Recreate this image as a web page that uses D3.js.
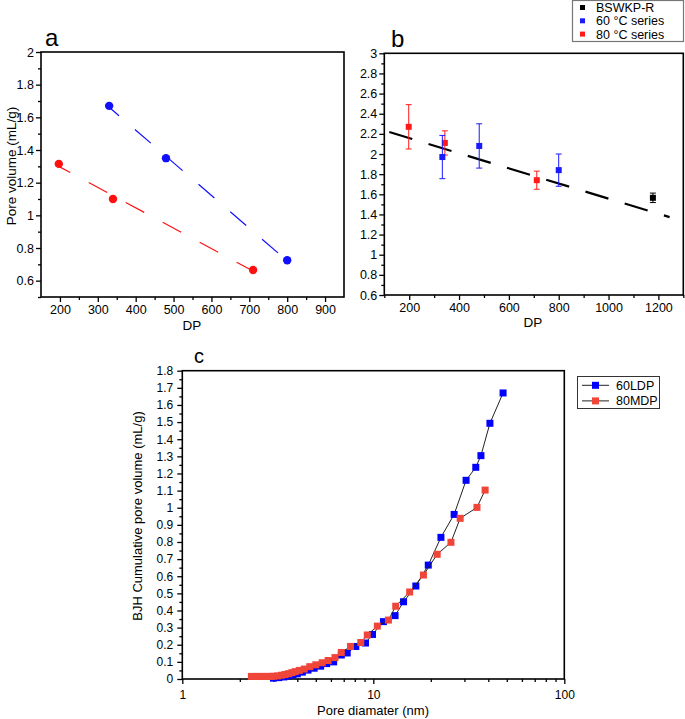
<!DOCTYPE html>
<html><head><meta charset="utf-8">
<script src="https://cdn.jsdelivr.net/npm/d3@7/dist/d3.min.js"></script>
<style>
body{margin:0;background:#fff;}
text{font-family:"Liberation Sans",Arial,sans-serif;}
</style></head>
<body><svg id="chart" width="685" height="719"></svg>
<script>
// ---------- Panel a data ----------
const aDP60 = [330, 480, 800];
const aPV60 = [1.67, 1.35, 0.725];
const aDP80 = [197, 340, 710];
const aPV80 = [1.315, 1.10, 0.665];
const aXTicks = [200, 300, 400, 500, 600, 700, 800, 900];
const aYTicks = [0.6, 0.8, 1.0, 1.2, 1.4, 1.6, 1.8, 2.0];

// ---------- Panel b data ----------
const bDP60 = [333, 481, 800];
const bPV60 = [1.97, 2.08, 1.84];
const bErr60 = [0.215, 0.22, 0.16];
const bDP80 = [198, 343, 712];
const bPV80 = [2.27, 2.11, 1.74];
const bErr80 = [0.22, 0.12, 0.09];
const bDPRef = [1178];
const bPVRef = [1.565];
const bErrRef = [0.047];
const bTrendDP = [120, 1245];
const bTrendPV = [2.218, 1.373];
const bXTicks = [200, 400, 600, 800, 1000, 1200];
const bYTicks = [0.6, 0.8, 1.0, 1.2, 1.4, 1.6, 1.8, 2.0, 2.2, 2.4, 2.6, 2.8, 3.0];
const bLegend = ["BSWKP-R", "60 °C series", "80 °C series"];

// ---------- Panel c data ----------
const cD60 = [3.0, 3.2, 3.4, 3.6, 3.8, 4.0, 4.25, 4.55, 4.9, 5.3, 5.7, 6.2, 6.8, 7.3, 8.1, 9.1, 9.9, 11.3, 13.0, 14.4, 16.7, 19.4, 22.6, 26.5, 30.6, 34.4, 36.6, 40.8, 47.8];
const cV60 = [0.005, 0.008, 0.012, 0.018, 0.024, 0.03, 0.04, 0.052, 0.063, 0.075, 0.09, 0.10, 0.14, 0.152, 0.19, 0.21, 0.26, 0.335, 0.37, 0.451, 0.543, 0.665, 0.827, 0.961, 1.16, 1.236, 1.304, 1.493, 1.67];
const cD80 = [2.3, 2.4, 2.5, 2.6, 2.7, 2.8, 2.9, 3.0, 3.15, 3.3, 3.45, 3.6, 3.75, 3.9, 4.1, 4.35, 4.65, 5.0, 5.4, 5.8, 6.3, 6.8, 7.6, 8.6, 9.3, 10.5, 12.0, 13.1, 15.5, 18.3, 21.6, 25.5, 28.5, 34.9, 38.5];
const cV80 = [0.015, 0.015, 0.015, 0.015, 0.015, 0.015, 0.015, 0.016, 0.018, 0.022, 0.026, 0.031, 0.037, 0.043, 0.05, 0.058, 0.072, 0.083, 0.095, 0.108, 0.125, 0.155, 0.19, 0.213, 0.257, 0.309, 0.344, 0.425, 0.508, 0.607, 0.728, 0.798, 0.938, 1.002, 1.103];
const cXTicks = [1, 10, 100];
const cYTicks = [0, 0.1, 0.2, 0.3, 0.4, 0.5, 0.6, 0.7, 0.8, 0.9, 1.0, 1.1, 1.2, 1.3, 1.4, 1.5, 1.6, 1.7, 1.8];
const cLegend = ["60LDP", "80MDP"];

const svg = d3.select("#chart");
svg.append("rect").attr("width", 685).attr("height", 719).attr("fill", "#fff");

const fmt = d => d3.format("~g")(+d.toFixed(2));

function drawFrame(g, x, y, o) {
  const [x0, x1] = x.range(), [y0, y1] = y.range();
  // minor ticks
  g.append("g").attr("transform", `translate(0,${y0})`)
    .call(d3.axisBottom(x).tickValues(o.xMinor).tickSize(3).tickFormat(""))
    .call(s => s.select(".domain").remove());
  g.append("g").attr("transform", `translate(${x0},0)`)
    .call(d3.axisLeft(y).tickValues(o.yMinor).tickSize(3).tickFormat(""))
    .call(s => s.select(".domain").remove());
  // major ticks
  g.append("g").attr("transform", `translate(0,${y0})`)
    .call(d3.axisBottom(x).tickValues(o.xMajor).tickSize(5).tickPadding(o.xPad).tickFormat(o.xFmt || fmt))
    .call(s => s.select(".domain").remove())
    .call(s => s.selectAll("text").attr("font-size", o.fs).attr("fill", "#000"));
  g.append("g").attr("transform", `translate(${x0},0)`)
    .call(d3.axisLeft(y).tickValues(o.yMajor).tickSize(5).tickPadding(o.yPad).tickFormat(fmt))
    .call(s => s.select(".domain").remove())
    .call(s => s.selectAll("text").attr("font-size", o.fs).attr("fill", "#000"));
  g.selectAll(".tick line").attr("stroke", "#000").attr("stroke-width", 1.3);
  g.append("rect").attr("x", x0).attr("y", y1).attr("width", x1 - x0).attr("height", y0 - y1)
    .attr("fill", "none").attr("stroke", "#000").attr("stroke-width", 1.6);
}

function fitLine(xs, ys) {
  const mx = d3.mean(xs), my = d3.mean(ys);
  const sxy = d3.sum(xs, (v, i) => (v - mx) * (ys[i] - my));
  const sxx = d3.sum(xs, v => (v - mx) * (v - mx));
  const m = sxy / sxx, b = my - m * mx;
  const lo = d3.min(xs), hi = d3.max(xs);
  return [[lo, m * lo + b], [hi, m * hi + b]];
}

// ================= Panel a =================
{
  const g = svg.append("g");
  const x = d3.scaleLinear().domain([150, 950]).range([41, 344]);
  const y = d3.scaleLinear().domain([0.5, 2]).range([297, 52]);
  drawFrame(g, x, y, {
    xMajor: aXTicks, xMinor: d3.range(250, 950, 100),
    yMajor: aYTicks, yMinor: d3.range(0.5, 2.0, 0.2).map(v => +v.toFixed(2)),
    xPad: 3, yPad: 2, fs: 12.5
  });
  const line = d3.line().x(d => x(d[0])).y(d => y(d[1]));
  [[aDP60, aPV60, "#1010ff"], [aDP80, aPV80, "#ff1010"]].forEach(([xs, ys, c]) => {
    g.append("path").attr("d", line(fitLine(xs, ys))).attr("fill", "none")
      .attr("stroke", c).attr("stroke-width", 1.2).attr("stroke-dasharray", "21,21").attr("stroke-dashoffset", 8);
    g.selectAll(null).data(xs).join("circle")
      .attr("cx", d => x(d)).attr("cy", (d, i) => y(ys[i])).attr("r", 4.2).attr("fill", c);
  });
  g.append("text").attr("x", 45).attr("y", 46).attr("font-size", 24).text("a");
  g.append("text").attr("x", 192).attr("y", 330).attr("font-size", 13.5).attr("text-anchor", "middle").text("DP");
  g.append("text").attr("transform", "translate(16,166) rotate(-90)").attr("font-size", 13.5)
    .attr("text-anchor", "middle").text("Pore volume (mL/g)");
}

// ================= Panel b =================
{
  const g = svg.append("g");
  const x = d3.scaleLinear().domain([100, 1300]).range([384.3, 683.3]);
  const y = d3.scaleLinear().domain([0.6, 3]).range([295, 53.3]);
  drawFrame(g, x, y, {
    xMajor: bXTicks, xMinor: d3.range(100, 1301, 200),
    yMajor: bYTicks, yMinor: d3.range(0.7, 3.0, 0.2).map(v => +v.toFixed(2)),
    xPad: 3, yPad: 2, fs: 12.5
  });
  g.append("path").attr("d", d3.line().x(d => x(d[0])).y(d => y(d[1]))(bTrendDP.map((d, i) => [d, bTrendPV[i]])))
    .attr("fill", "none").attr("stroke", "#000").attr("stroke-width", 2.2).attr("stroke-dasharray", "24,17");
  [[bDP80, bPV80, bErr80, "#ff1a1a"], [bDP60, bPV60, bErr60, "#1a1aff"], [bDPRef, bPVRef, bErrRef, "#000"]]
    .forEach(([xs, ys, es, c]) => {
      const s = g.append("g");
      xs.forEach((d, i) => {
        const cx = x(d), top = y(ys[i] + es[i]), bot = y(ys[i] - es[i]);
        s.append("line").attr("x1", cx).attr("x2", cx).attr("y1", top).attr("y2", bot).attr("stroke", c).attr("stroke-width", 1);
        [top, bot].forEach(yy => s.append("line").attr("x1", cx - 3).attr("x2", cx + 3).attr("y1", yy).attr("y2", yy)
          .attr("stroke", c).attr("stroke-width", 1));
        s.append("rect").attr("x", cx - 3).attr("y", y(ys[i]) - 3).attr("width", 6).attr("height", 6).attr("fill", c);
      });
    });
  g.append("text").attr("x", 391).attr("y", 46.5).attr("font-size", 24).text("b");
  g.append("text").attr("x", 533).attr("y", 327).attr("font-size", 13.5).attr("text-anchor", "middle").text("DP");
  // legend
  const lg = g.append("g");
  lg.append("rect").attr("x", 572.5).attr("y", 0.5).attr("width", 111).attr("height", 41)
    .attr("fill", "#fff").attr("stroke", "#777").attr("stroke-width", 1.2);
  const lc = ["#000", "#1a1aff", "#ff1a1a"];
  bLegend.forEach((t, i) => {
    const yy = 7.5 + i * 13.3;
    lg.append("rect").attr("x", 580).attr("y", yy - 2.5).attr("width", 5).attr("height", 5).attr("fill", lc[i]);
    lg.append("text").attr("x", 596).attr("y", yy + 4.5).attr("font-size", 12.5).text(t);
  });
}

// ================= Panel c =================
{
  const g = svg.append("g");
  const x = d3.scaleLog().domain([1, 100]).range([182.3, 564.3]);
  const y = d3.scaleLinear().domain([0, 1.8]).range([679, 370.7]);
  const minorX = [2, 3, 4, 5, 6, 7, 8, 9, 20, 30, 40, 50, 60, 70, 80, 90];
  drawFrame(g, x, y, {
    xMajor: cXTicks, xMinor: minorX, xFmt: d3.format("d"),
    yMajor: cYTicks, yMinor: d3.range(0.05, 1.8, 0.1).map(v => +v.toFixed(3)),
    xPad: 6, yPad: 4, fs: 12
  });
  const line = d3.line().x(d => x(d[0])).y(d => y(d[1]));
  const series = [[cD60, cV60, "#0000ff"], [cD80, cV80, "#f0463a"]];
  series.forEach(([xs, ys, c]) => {
    g.append("path").attr("d", line(xs.map((d, i) => [d, ys[i]]))).attr("fill", "none")
      .attr("stroke", "#222").attr("stroke-width", 1);
    g.selectAll(null).data(xs).join("rect")
      .attr("x", d => x(d) - 3.5).attr("y", (d, i) => y(ys[i]) - 3.5)
      .attr("width", 7).attr("height", 7).attr("fill", c);
  });
  g.append("text").attr("x", 194).attr("y", 363).attr("font-size", 20).text("c");
  g.append("text").attr("x", 373).attr("y", 715).attr("font-size", 13).attr("text-anchor", "middle").text("Pore diamater (nm)");
  g.append("text").attr("transform", "translate(142,516) rotate(-90)").attr("font-size", 13)
    .attr("text-anchor", "middle").text("BJH Cumulative pore volume (mL/g)");
  // legend
  const lg = g.append("g");
  lg.append("rect").attr("x", 577.5).attr("y", 376.5).attr("width", 82).attr("height", 32)
    .attr("fill", "#fff").attr("stroke", "#333").attr("stroke-width", 1);
  series.forEach(([, , c], i) => {
    const yy = 385.3 + i * 15.6;
    lg.append("line").attr("x1", 582).attr("x2", 609).attr("y1", yy).attr("y2", yy).attr("stroke", "#222").attr("stroke-width", 1);
    lg.append("rect").attr("x", 592).attr("y", yy - 3.5).attr("width", 7).attr("height", 7).attr("fill", c);
    lg.append("text").attr("x", 616).attr("y", yy + 4.5).attr("font-size", 12.5).text(cLegend[i]);
  });
}
</script></body></html>
